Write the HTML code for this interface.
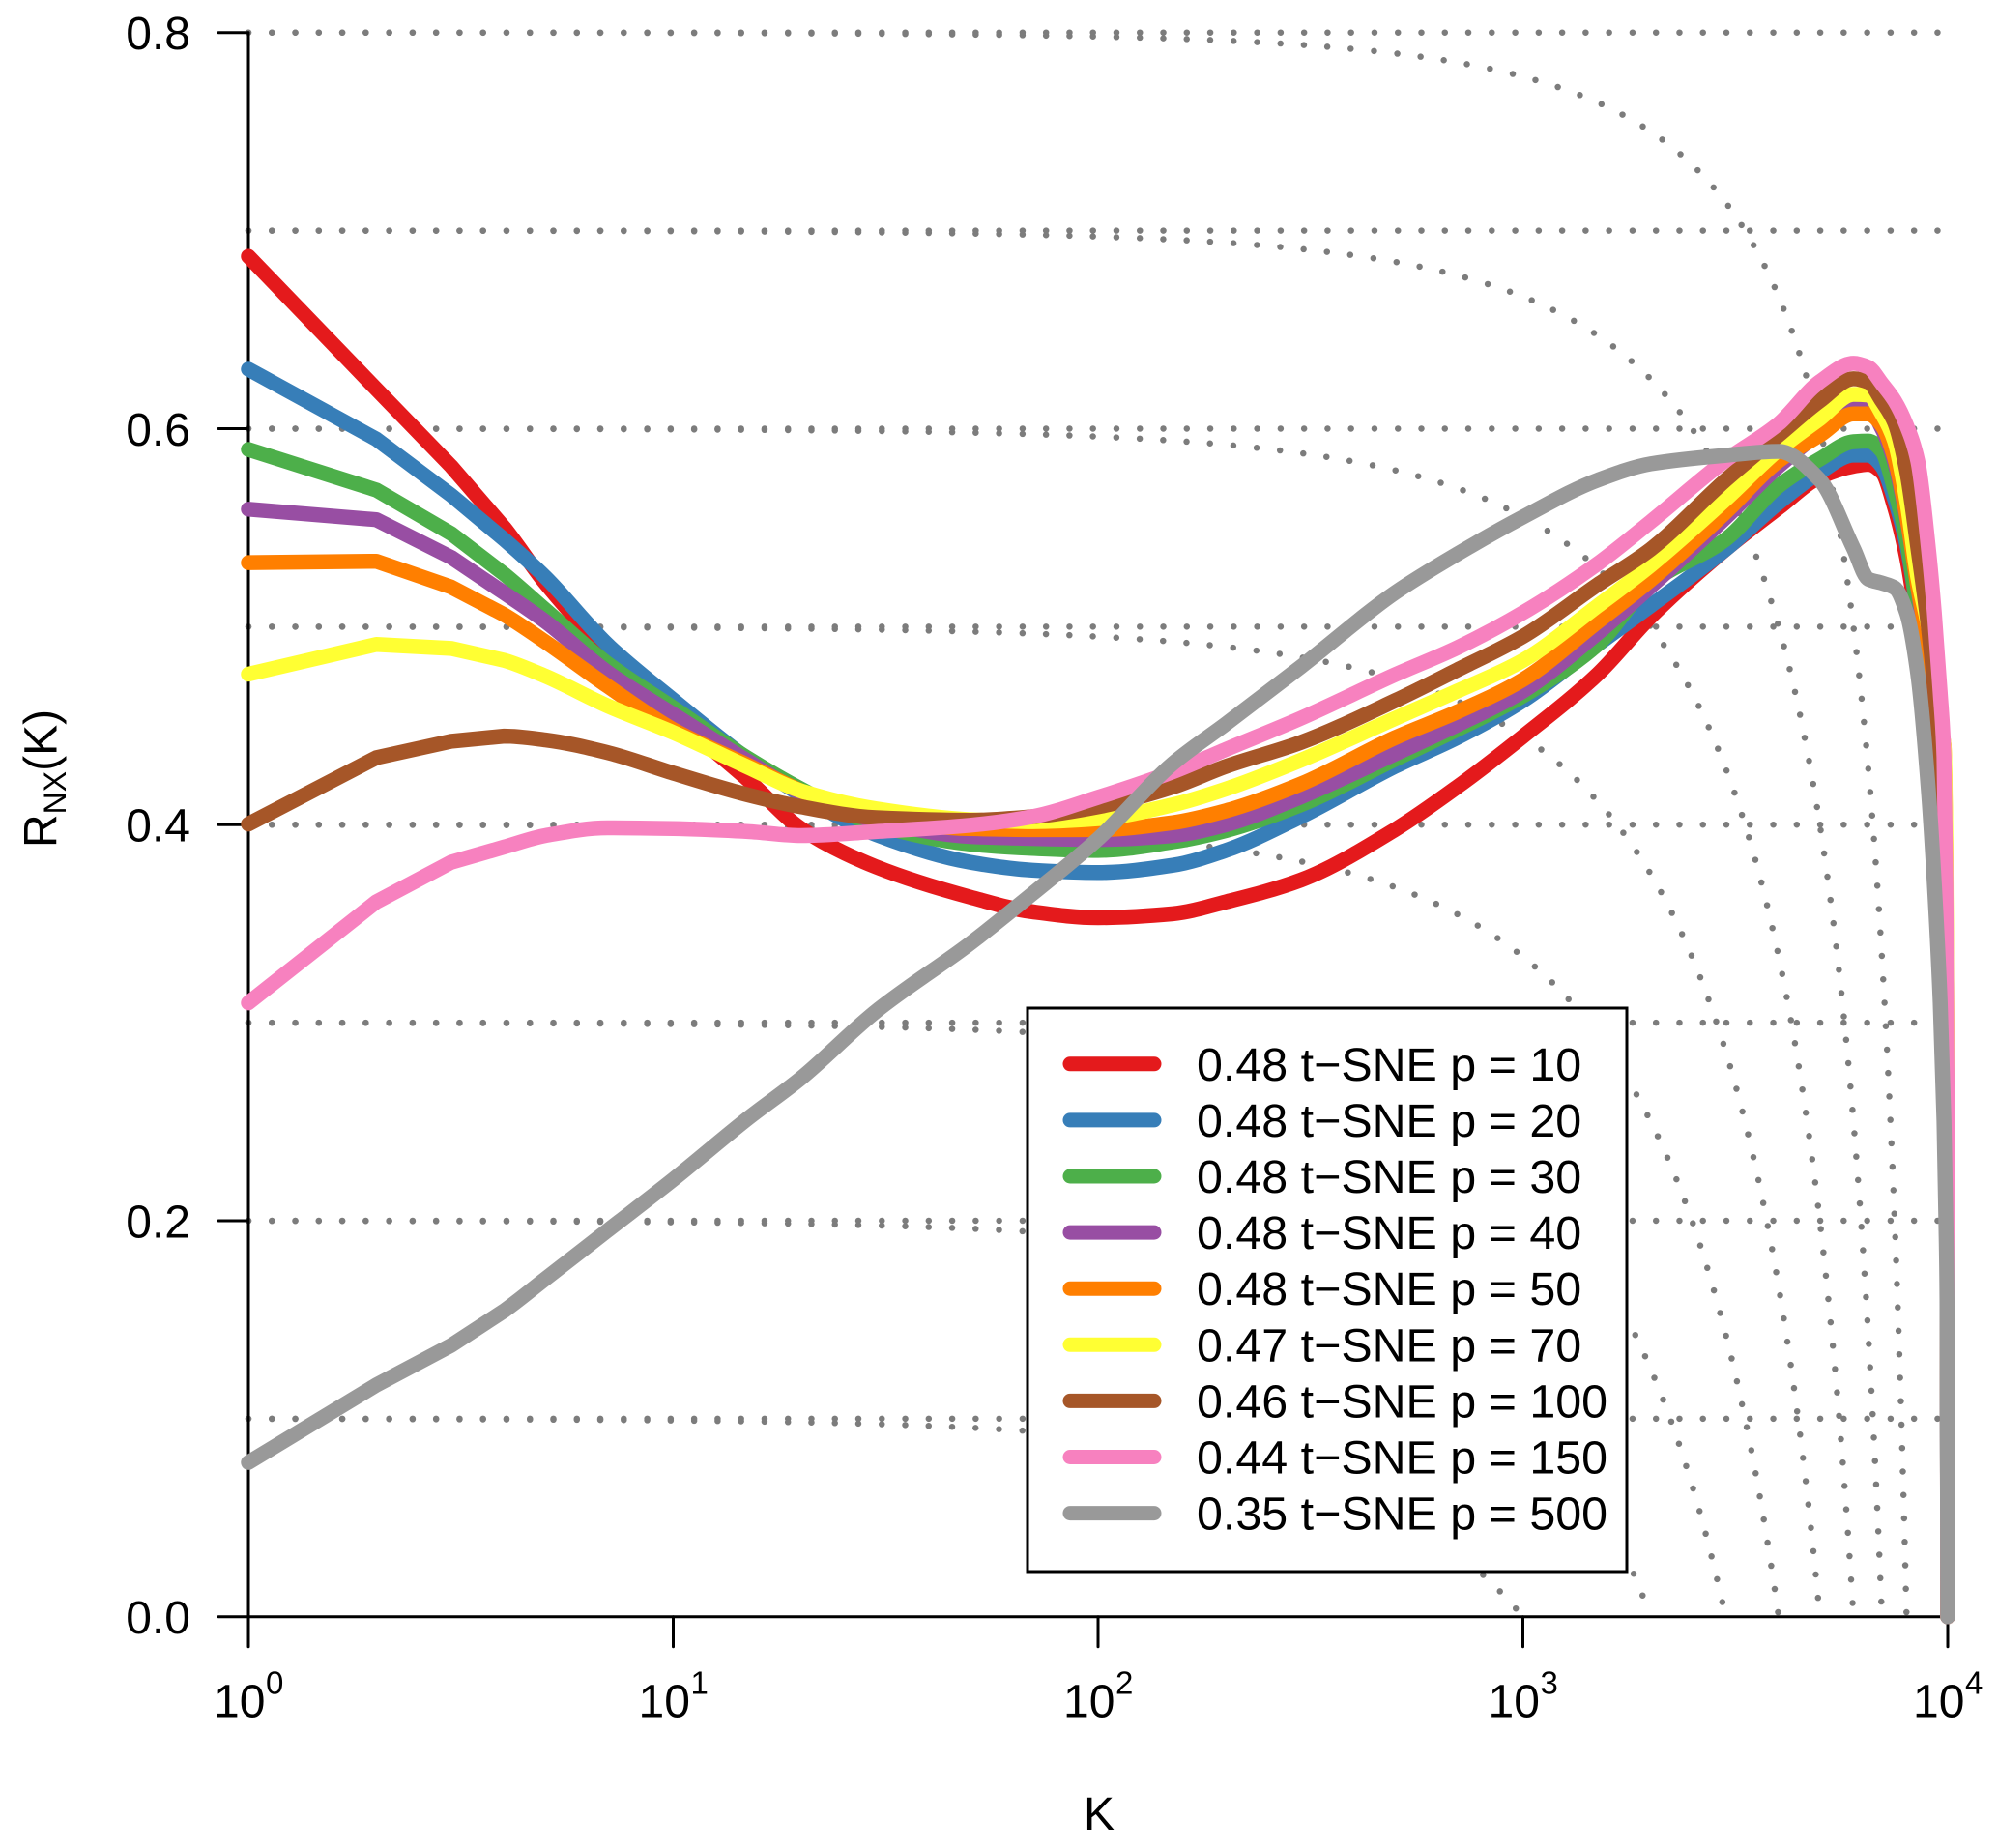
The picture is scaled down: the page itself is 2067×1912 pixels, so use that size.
<!DOCTYPE html>
<html lang="en">
<head>
<meta charset="utf-8">
<title>R_NX(K) curves for t-SNE perplexities</title>
<style>
html,body{margin:0;padding:0;background:#fff;}
svg{display:block;font-family:"Liberation Sans",Arial,sans-serif;}
</style>
</head>
<body>
<svg id="chart" xmlns="http://www.w3.org/2000/svg" width="2067" height="1912" viewBox="0 0 2067 1912">
<rect x="0" y="0" width="2067" height="1912" fill="#ffffff"/>
</svg>
<script>
// ---- chart data ----
var kValues = [1,2,3,4,5,7,10,15,20,30,50,70,100,150,200,300,500,700,1000,1500,2000,3000,4000,5000,6000,6500,7000,7500,8000,8500,9000,9300,9600,9800,9900,9960,10000];
var seriesP10 = [.687,.62,.581,.55,.522,.487,.455,.4226,.398,.3787,.3634,.356,.353,.355,.361,.372,.3975,.419,.4445,.476,.505,.539,.56,.5755,.581,.582,.578,.56,.535,.50,.46,.43,.39,.33,.27,.18,0];
var seriesP20 = [.63,.5947,.5664,.544,.525,.491,.463,.433,.415,.395,.381,.377,.3758,.3795,.387,.404,.4294,.4439,.4626,.491,.5106,.539,.5626,.578,.5866,.5866,.581,.5642,.5416,.507,.47,.44,.40,.34,.28,.19,0];
var seriesP30 = [.5895,.569,.547,.5265,.5085,.4814,.459,.4335,.418,.40,.3902,.388,.387,.3913,.397,.41,.433,.448,.465,.491,.5219,.544,.571,.5846,.5934,.5937,.5886,.569,.5445,.507,.47,.44,.40,.345,.285,.195,0];
var seriesP40 = [.5593,.554,.535,.517,.5026,.477,.4557,.432,.416,.402,.394,.393,.3925,.3945,.40,.414,.4357,.4503,.4674,.4967,.5203,.555,.581,.598,.61,.6105,.60,.583,.555,.52,.48,.45,.41,.36,.30,.21,0];
var seriesP50 = [.5323,.533,.52,.506,.4923,.47,.448,.43,.417,.403,.398,.3975,.3975,.401,.407,.4205,.4439,.4569,.4732,.5024,.5236,.5577,.5837,.5967,.6074,.6074,.6016,.585,.556,.52,.49,.47,.45,.44,.38,.28,0];
var seriesP70 = [.476,.491,.489,.483,.475,.46,.4465,.429,.417,.408,.4025,.4015,.403,.41,.418,.4325,.4536,.4674,.4829,.5105,.531,.5642,.5894,.605,.6173,.617,.6075,.5936,.564,.525,.50,.48,.45,.44,.39,.29,0];
var seriesP100 = [.4003,.4338,.4421,.4447,.4428,.4364,.426,.415,.409,.4035,.4022,.404,.409,.419,.4294,.4415,.4626,.4781,.495,.5212,.5391,.574,.5967,.614,.6252,.6235,.614,.603,.5788,.54,.50,.47,.43,.40,.34,.24,0];
var seriesP150 = [.31,.361,.381,.3887,.3945,.3984,.398,.3965,.3945,.3965,.3997,.404,.4138,.4267,.438,.4537,.4757,.4893,.507,.5318,.553,.584,.6025,.6237,.633,.631,.6227,.614,.6016,.5837,.54,.507,.4666,.434,.37,.27,0];
var seriesP500 = [.0779,.117,.137,.1545,.1706,.195,.2208,.2517,.272,.3057,.34,.365,.3928,.4309,.4509,.4797,.5171,.5366,.5553,.574,.5822,.5865,.5885,.574,.5395,.524,.522,.5196,.507,.476,.418,.37,.31,.25,.2,.16,0];
var seriesColors = ["#E41A1C","#377EB8","#4DAF4A","#984EA3","#FF7F00","#FFFF33","#A65628","#F781BF","#999999"];
var seriesPerplexity = [10,20,30,40,50,70,100,150,500];
var seriesScores = ["0.48","0.48","0.48","0.48","0.48","0.47","0.46","0.44","0.35"];
var xTickExponents = [0,1,2,3,4];
var yTickValues = [0,0.2,0.4,0.6,0.8];
var gridLevels = [0.1,0.2,0.3,0.4,0.5,0.6,0.7,0.8];
var pointCount = 10000;

var allSeries = [seriesP10,seriesP20,seriesP30,seriesP40,seriesP50,seriesP70,seriesP100,seriesP150,seriesP500];

// ---- axis functions ----
function xPos(k){ return 257 + 439.5 * Math.log10(k); }
function yPos(v){ return 1672.7 - 2048.75 * v; }

var svg = document.getElementById('chart');
var NS = 'http://www.w3.org/2000/svg';
function make(tag, parent, attrs){
  var el = document.createElementNS(NS, tag);
  for (var a in attrs) el.setAttribute(a, attrs[a]);
  parent.appendChild(el);
  return el;
}
function pathFrom(pts){
  return pts.map(function(p,i){ return (i ? 'L' : 'M') + p[0].toFixed(2) + ' ' + p[1].toFixed(2); }).join(' ');
}
// straight segments across the first integer K values, monotone cubic afterwards
function smoothPath(pts){
  var n = pts.length, d = [], m = [], i, straightUntil = 3;
  for (i = 0; i < n - 1; i++) d.push((pts[i+1][1] - pts[i][1]) / (pts[i+1][0] - pts[i][0]));
  m[0] = d[0];
  m[n-1] = d[n-2];
  for (i = 1; i < n - 1; i++){
    if (d[i-1] * d[i] <= 0) { m[i] = 0; }
    else {
      var h0 = pts[i][0] - pts[i-1][0], h1 = pts[i+1][0] - pts[i][0];
      var w1 = 2*h1 + h0, w2 = h1 + 2*h0;
      m[i] = (w1 + w2) / (w1 / d[i-1] + w2 / d[i]);
    }
  }
  var s = 'M' + pts[0][0].toFixed(2) + ' ' + pts[0][1].toFixed(2);
  for (i = 0; i < n - 1; i++){
    if (i < straightUntil) { s += ' L' + pts[i+1][0].toFixed(2) + ' ' + pts[i+1][1].toFixed(2); continue; }
    var h = (pts[i+1][0] - pts[i][0]) / 3;
    s += ' C' + (pts[i][0]+h).toFixed(2) + ' ' + (pts[i][1]+m[i]*h).toFixed(2) + ' ' +
         (pts[i+1][0]-h).toFixed(2) + ' ' + (pts[i+1][1]-m[i+1]*h).toFixed(2) + ' ' +
         pts[i+1][0].toFixed(2) + ' ' + pts[i+1][1].toFixed(2);
  }
  return s;
}

// ---- dotted reference grid ----
var gridGroup = make('g', svg, {fill:'none', stroke:'#7c7c7c', 'stroke-width':6.5, 'stroke-linecap':'round', 'stroke-dasharray':'0 24.27'});


gridLevels.forEach(function(q){
  var h = make('line', gridGroup, {x1:xPos(1), x2:xPos(10000), y1:yPos(q), y2:yPos(q)});
  
  
  var pts = [];
  var kEnd = q * pointCount;
  for (var i = 0; i <= 600; i++){
    var k = Math.pow(kEnd, i / 600);
    var r = (q * (pointCount - 1) - k) / (pointCount - 1 - k);
    if (r < 0) r = 0;
    pts.push([xPos(k), yPos(r)]);
  }
  var c = make('path', gridGroup, {d:pathFrom(pts)});
  
  
});

// ---- axes ----
var axisGroup = make('g', svg, {stroke:'#000000', 'stroke-width':3, fill:'none', 'stroke-linecap':'round'});


var yAxisLine = make('line', axisGroup, {x1:xPos(1), x2:xPos(1), y1:yPos(0), y2:yPos(0.8)});


var xAxisLine = make('line', axisGroup, {x1:xPos(1), x2:xPos(10000), y1:yPos(0), y2:yPos(0)});



yTickValues.forEach(function(v){
  var t = make('line', axisGroup, {x1:xPos(1)-31, x2:xPos(1), y1:yPos(v), y2:yPos(v)});
  
  
  var l = make('text', svg, {x:197, y:yPos(v)+17.5, 'text-anchor':'end', 'font-size':48, fill:'#000'});
  
  
  l.textContent = v.toFixed(1);
});
xTickExponents.forEach(function(e){
  var cx = xPos(Math.pow(10, e));
  var t = make('line', axisGroup, {x1:cx, x2:cx, y1:yPos(0), y2:yPos(0)+31});
  
  
  var l = make('text', svg, {x:cx-36, y:1776.7, 'font-size':48, fill:'#000'});
  
  
  l.textContent = '10';
  var s = make('text', svg, {x:cx+18, y:1752.7, 'font-size':33, fill:'#000'});
  
  
  s.textContent = String(e);
});

// ---- series ----
var seriesGroup = make('g', svg, {fill:'none', 'stroke-width':15.5, 'stroke-linecap':'round', 'stroke-linejoin':'round'});


allSeries.forEach(function(values, si){
  var pts = values.map(function(v, i){ return [xPos(kValues[i]), yPos(v)]; });
  var p = make('path', seriesGroup, {d:smoothPath(pts), stroke:seriesColors[si]});
  
  
});

// ---- legend ----
var legend = make('g', svg, {});


var legendBox = make('rect', legend, {x:1063, y:1043, width:620, height:583, fill:'#ffffff', stroke:'#000000', 'stroke-width':3});


seriesPerplexity.forEach(function(p, i){
  var rowY = 1100.8 + 58.1 * i;
  var sw = make('line', legend, {x1:1107, x2:1194, y1:rowY, y2:rowY, stroke:seriesColors[i], 'stroke-width':15, 'stroke-linecap':'round'});
  
  
  var tx = make('text', legend, {x:1238, y:rowY+17, 'font-size':48.4, fill:'#000'});
  
  
  tx.textContent = seriesScores[i] + ' t\u2212SNE p = ' + p;
});
</script>
<svg xmlns="http://www.w3.org/2000/svg" width="2067" height="1912" viewBox="0 0 2067 1912" style="position:absolute;left:0;top:0;pointer-events:none;font-family:'Liberation Sans',Arial,sans-serif;">
<text x="1137" y="1893" text-anchor="middle" font-size="48" fill="#000">K</text>
<text transform="translate(58.7 877) rotate(-90)" font-size="48" fill="#000">R<tspan font-size="32" dy="9.5">NX</tspan><tspan dy="-9.5">(K)</tspan></text>
</svg>
</body>
</html>
